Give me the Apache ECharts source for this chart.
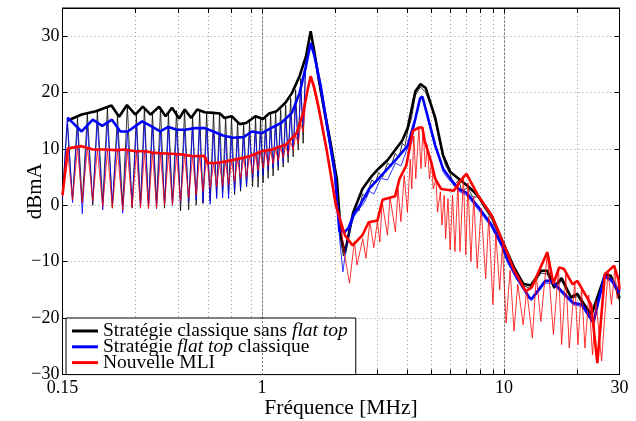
<!DOCTYPE html>
<html>
<head>
<meta charset="utf-8">
<script src="https://cdn.jsdelivr.net/npm/echarts@6/dist/echarts.min.js"></script>
<style>
    html, body { margin: 0; padding: 0; background: #fff; }
    #main { width: 636px; height: 421px; }
</style>
</head>
<body>
<div id="main"></div>
<script>
// axes
var xTickValues = [0.15, 1, 10, 30];
var xTickLabels = ['0.15', '1', '10', '30'];
var xMinorTicks = [0.3, 0.45, 0.6, 0.75, 0.9, 1, 2, 3, 4, 5, 6, 7, 8, 9, 10, 20];
var xMajorGrid = [1, 10];
var yTicks = [-30, -20, -10, 0, 10, 20, 30];

// thin spectra, low band (harmonic peaks / valleys), MHz
var fLow = [0.150, 0.157, 0.165, 0.173, 0.181, 0.190, 0.200, 0.209, 0.220, 0.230,
    0.241, 0.253, 0.266, 0.278, 0.291, 0.303, 0.315, 0.327, 0.340, 0.353,
    0.367, 0.381, 0.396, 0.411, 0.427, 0.444, 0.461, 0.479, 0.498, 0.517,
    0.535, 0.553, 0.571, 0.591, 0.611, 0.631, 0.650, 0.668, 0.688, 0.708,
    0.728, 0.749, 0.771, 0.793, 0.816, 0.840, 0.864, 0.889, 0.915, 0.941,
    0.964, 0.987, 1.011, 1.036, 1.061, 1.086, 1.112, 1.139, 1.167, 1.195,
    1.224, 1.253, 1.283, 1.314, 1.346, 1.378, 1.412, 1.446, 1.480, 1.516];
var blackThinLow = [2.0, 14.5, 1.0, 15.5, 0.5, 16.2, 0.0, 16.6, 0.5, 17.3,
    -0.5, 15.8, 0.0, 17.6, -0.5, 16.0, 0.0, 17.3, -0.5, 16.3,
    0.0, 17.3, -0.5, 16.2, 0.0, 16.8, -1.0, 16.8, -0.8, 15.7,
    0.0, 16.8, 0.3, 16.4, 0.8, 16.3, 1.6, 16.2, 2.3, 15.6,
    2.1, 15.6, 1.9, 14.8, 2.5, 14.4, 3.3, 14.9, 3.3, 15.6,
    3.2, 15.5, 4.0, 15.6, 4.8, 16.2, 5.2, 16.5, 6.2, 17.0,
    6.8, 17.8, 7.6, 19.0, 8.6, 20.5, 9.8, 22.5, 11.0, 25.5];
var blueThinLow = [1.0, 15.5, 0.5, 14.0, -1.5, 14.0, 0.5, 14.8, -0.8, 14.8,
    0.3, 13.5, -1.4, 13.0, 0.0, 14.0, -0.5, 14.7, -0.2, 14.0,
    -0.6, 13.1, 0.1, 13.8, 0.1, 13.4, 0.4, 13.4, 0.7, 13.6,
    1.0, 13.7, 0.5, 13.6, 0.2, 13.1, 1.2, 12.7, 1.3, 12.3,
    1.2, 12.0, 2.5, 12.0, 2.9, 12.1, 3.5, 12.6, 4.7, 13.0,
    5.0, 12.8, 5.3, 13.2, 6.2, 13.6, 6.6, 14.0, 7.0, 14.5,
    7.6, 15.2, 8.8, 16.0, 9.8, 17.6, 11.2, 20.5, 14.0, 24.0];
var redThinLow = [1.5, 10.0, 1.0, 10.2, 0.5, 10.3, 0.7, 9.8, -0.2, 9.7,
    -0.5, 9.7, -0.8, 9.8, -0.3, 9.5, -0.5, 9.5, -0.6, 9.4,
    -0.5, 9.2, 0.0, 9.1, 0.1, 9.0, 0.7, 9.0, 1.3, 8.7,
    1.8, 8.8, 2.5, 8.6, 3.0, 7.5, 3.3, 7.6, 3.5, 7.8,
    3.6, 8.0, 4.2, 8.2, 4.8, 8.4, 5.1, 8.7, 5.6, 9.0,
    6.2, 9.4, 6.6, 9.6, 7.0, 9.8, 7.4, 10.0, 7.9, 10.3,
    8.4, 10.6, 9.0, 11.2, 9.8, 12.4, 11.0, 14.5, 13.0, 18.5];

// thin spectra, upper band
var fBlackThinHigh = [1.55, 1.59, 1.65, 1.71, 1.81, 1.92, 2.04, 2.12, 2.17, 2.22,
    2.30, 2.38, 2.45, 2.52, 2.60, 2.70, 2.84, 2.95, 3.03, 3.15,
    3.30, 3.42, 3.55, 3.68, 3.80, 3.90, 4.00, 4.15, 4.30, 4.52,
    4.75, 5.00, 5.20, 5.40, 5.60, 5.75, 6.00, 6.20, 6.50, 6.70,
    7.10, 7.40, 7.80, 8.30, 8.90, 10.0, 11.0, 12.0, 12.9, 14.2,
    15.1, 16.1, 17.3, 18.9, 20.1, 22.1, 23.0, 26.2, 27.6, 29.3, 30.0];
var blackThinHigh = [28.5, 30.5, 26.5, 22.0, 16.0, 10.0, 3.5, -6.5, -9.0, -7.5,
    -4.0, -2.0, -0.5, -1.0, 2.0, 1.5, 4.5, 4.0, 5.8, 5.0,
    7.5, 7.0, 9.2, 8.5, 11.0, 10.5, 13.2, 15.5, 19.5, 21.0,
    20.0, 17.5, 15.0, 11.5, 8.5, 7.0, 5.5, 3.5, 4.5, 2.5,
    3.2, 1.5, 1.5, -0.5, -2.5, -7.5, -11.5, -14.2, -14.8, -12.0,
    -12.2, -14.8, -13.4, -16.5, -16.2, -18.8, -19.6, -12.8, -13.0, -15.5, -17.0];
var fBlueThinHigh = [1.55, 1.59, 1.65, 1.75, 1.86, 2.00, 2.09, 2.16, 2.22, 2.28,
    2.40, 2.54, 2.65, 2.78, 2.90, 3.10, 3.30, 3.56, 3.75, 4.00,
    4.15, 4.30, 4.50, 4.60, 4.80, 5.00, 5.20, 5.40, 5.60, 5.80,
    6.00, 6.50, 7.00, 7.90, 8.90, 9.80, 10.3, 11.3, 12.0, 12.7,
    13.0, 14.8, 15.8, 17.3, 19.3, 21.0, 23.0, 23.4, 26.0, 27.8, 30.0];
var blueThinHigh = [27.0, 28.5, 26.0, 20.5, 13.5, 5.0, -5.5, -11.8, -8.0, -5.0,
    -2.0, -0.5, 0.5, 2.5, 2.0, 4.8, 4.5, 7.5, 7.0, 10.2,
    11.0, 15.0, 18.6, 19.0, 16.0, 13.0, 10.2, 8.5, 6.0, 5.0,
    4.3, 2.5, 1.8, -1.0, -4.0, -7.5, -10.0, -13.2, -14.5, -16.6,
    -16.9, -13.8, -13.8, -15.6, -17.6, -18.0, -20.6, -21.0, -12.8, -13.6, -15.8];
var fRedThinHigh = [1.55, 1.59, 1.64, 1.71, 1.85, 2.00, 2.12, 2.20, 2.30, 2.41,
    2.47, 2.61, 2.69, 2.79, 2.90, 3.00, 3.07, 3.14, 3.30, 3.38,
    3.56, 3.65, 3.75, 3.87, 3.99, 4.10, 4.16, 4.24, 4.32, 4.45,
    4.54, 4.63, 4.73, 4.83, 4.92, 5.03, 5.10, 5.24, 5.31, 5.46,
    5.54, 5.66, 5.74, 5.87, 5.99, 6.13, 6.27, 6.45, 6.58, 6.80,
    6.95, 7.10, 7.30, 7.50, 7.75, 8.05, 8.40, 8.65, 9.00, 9.25,
    9.60, 9.85, 10.2, 10.6, 11.0, 11.4, 12.0, 12.4, 13.1, 13.6,
    14.2, 15.1, 16.0, 16.8, 17.3, 18.0, 18.6, 19.6, 20.2, 20.9,
    21.6, 22.4, 23.2, 24.0, 25.3, 26.9, 27.8, 28.7, 29.3, 30.0];
var redThinHigh = [21.0, 22.5, 20.5, 17.0, 9.5, 2.0, -4.0, -9.0, -13.8, -6.4,
    -10.6, -5.9, -9.4, -2.9, -7.5, -2.8, -6.5, 0.5, -5.3, 1.5,
    -4.7, 2.9, -2.9, 5.3, -1.2, 8.2, 2.9, 12.3, 4.7, 13.8,
    6.5, 13.5, 6.8, 10.6, 4.7, 7.7, 2.9, 4.7, -1.2, 2.4,
    -3.5, 1.8, -5.9, 1.2, -7.9, 1.8, -8.2, 4.1, -8.2, 5.3,
    -8.8, 4.0, -10.0, 1.5, -11.2, -0.5, -13.0, -2.0, -17.6, -5.0,
    -15.0, -7.0, -20.9, -11.5, -22.3, -14.0, -21.2, -15.0, -23.5, -12.5,
    -20.6, -8.5, -22.9, -11.2, -24.7, -12.3, -25.3, -13.5, -24.7, -14.7,
    -25.3, -15.9, -26.5, -17.0, -27.6, -11.7, -17.6, -11.2, -16.5, -15.3];

// envelopes (thick lines)
var fBlackEnv = [0.157, 0.180, 0.206, 0.239, 0.257, 0.277, 0.300, 0.322, 0.347, 0.376,
    0.400, 0.425, 0.455, 0.480, 0.510, 0.540, 0.580, 0.630, 0.670, 0.700,
    0.750, 0.810, 0.860, 0.940, 1.010, 1.070, 1.150, 1.250, 1.330, 1.430,
    1.520, 1.590, 1.650, 1.710, 1.810, 1.920, 2.040, 2.120, 2.200, 2.260,
    2.380, 2.600, 2.840, 3.030, 3.300, 3.550, 3.800, 4.000, 4.300, 4.520,
    4.750, 5.200, 5.600, 6.000, 6.500, 7.100, 7.800, 8.900, 10.00, 11.00,
    12.00, 12.90, 14.20, 15.10, 16.10, 17.30, 18.90, 20.10, 22.10, 23.00,
    26.20, 27.60, 29.30, 30.00];
var blackEnv = [15.0, 16.1, 16.7, 17.7, 15.7, 17.8, 16.1, 17.5, 16.1, 17.5,
    15.8, 17.3, 15.4, 17.0, 15.5, 17.0, 16.5, 16.4, 16.3, 15.5,
    15.8, 14.4, 14.6, 15.8, 15.3, 16.3, 16.7, 18.2, 19.9, 22.9,
    26.4, 30.9, 27.0, 22.9, 17.0, 11.1, 4.6, -5.5, -8.5, -6.1,
    -1.3, 2.9, 5.2, 6.5, 8.0, 9.8, 11.5, 13.7, 20.2, 21.5,
    20.8, 15.5, 8.9, 5.9, 4.7, 3.4, 1.7, -1.9, -7.0, -11.0,
    -13.9, -14.2, -11.6, -11.6, -14.5, -12.9, -16.3, -15.7, -18.4, -19.3,
    -12.2, -12.5, -14.9, -16.5];
var fBlueEnv = [0.157, 0.180, 0.200, 0.219, 0.240, 0.260, 0.279, 0.320, 0.347, 0.380,
    0.410, 0.446, 0.480, 0.530, 0.580, 0.630, 0.690, 0.760, 0.840, 0.910,
    1.000, 1.090, 1.200, 1.330, 1.430, 1.520, 1.590, 1.650, 1.750, 1.860,
    2.000, 2.090, 2.200, 2.280, 2.400, 2.540, 2.780, 3.100, 3.560, 4.000,
    4.300, 4.500, 4.600, 4.800, 5.200, 5.600, 6.000, 6.500, 7.000, 7.900,
    8.900, 9.800, 10.30, 11.30, 12.70, 13.00, 14.80, 15.80, 17.30, 19.30,
    21.00, 23.00, 23.40, 26.00, 27.80, 30.00];
var blueEnv = [15.6, 13.1, 15.2, 14.1, 15.2, 13.1, 13.1, 14.9, 14.1, 13.1,
    13.9, 13.4, 13.4, 13.7, 13.7, 13.1, 12.4, 12.0, 12.1, 13.1,
    12.8, 13.7, 14.6, 16.4, 19.9, 24.7, 28.8, 26.4, 21.1, 14.0,
    5.7, -4.6, -4.7, -4.0, -1.5, 0.0, 3.0, 5.2, 8.0, 10.6,
    15.3, 19.0, 19.3, 16.3, 10.6, 6.5, 4.7, 2.9, 2.2, -0.5,
    -3.5, -7.0, -9.5, -12.8, -16.3, -16.6, -13.4, -13.4, -15.2, -17.3,
    -17.6, -20.3, -20.8, -12.5, -13.2, -15.5];
var fRedEnv = [0.150, 0.158, 0.180, 0.200, 0.224, 0.250, 0.270, 0.300, 0.330, 0.360,
    0.400, 0.440, 0.470, 0.520, 0.575, 0.595, 0.650, 0.710, 0.790, 0.890,
    1.000, 1.100, 1.260, 1.390, 1.480, 1.550, 1.590, 1.640, 1.710, 1.850,
    2.020, 2.200, 2.370, 2.600, 2.760, 3.000, 3.150, 3.400, 3.550, 3.700,
    3.950, 4.200, 4.450, 4.600, 4.700, 5.000, 5.200, 5.500, 6.200, 6.700,
    7.000, 7.800, 8.900, 10.00, 11.00, 12.30, 13.00, 15.10, 16.00, 16.90,
    17.70, 19.20, 20.10, 22.90, 24.30, 26.10, 28.50, 29.80, 30.00];
var redEnv = [1.8, 10.1, 10.5, 9.9, 9.9, 9.8, 9.9, 9.6, 9.6, 9.3,
    9.2, 9.1, 9.0, 8.7, 8.8, 7.5, 7.5, 7.8, 8.2, 8.7,
    9.6, 9.9, 10.8, 12.8, 16.4, 20.8, 22.9, 21.1, 17.6, 9.9,
    0.0, -5.3, -7.1, -5.3, -3.0, -2.7, 1.0, 1.4, 1.6, 4.7,
    7.1, 13.2, 13.8, 13.8, 11.5, 7.7, 4.7, 2.9, 2.6, 4.7,
    5.6, 1.8, -1.8, -7.0, -11.5, -15.2, -14.6, -8.3, -13.9, -11.0,
    -11.3, -14.0, -13.4, -17.6, -28.0, -12.2, -10.7, -13.4, -15.0];

var names = ['Stratégie classique sans flat top', 'Stratégie flat top classique', 'Nouvelle MLI'];
var font = '"Liberation Serif", "Times New Roman", serif';

function lg(f) { return Math.log10(f); }
function pairs(fs, vs) {
    return fs.map(function (f, i) { return [lg(f), vs[i]]; });
}
function thin(name, color, fs, vs) {
    return {
        name: name, type: 'line', data: pairs(fs, vs), showSymbol: false, silent: true,
        lineStyle: { color: color, width: 0.8 }, itemStyle: { color: color }
    };
}
function thick(name, color, fs, vs) {
    return {
        name: name, type: 'line', data: pairs(fs, vs), showSymbol: false, silent: true,
        lineStyle: { color: color, width: 2.6 }, itemStyle: { color: color }
    };
}

var myChart = echarts.init(document.getElementById('main'));
var gridLine = { show: true, lineStyle: { color: '#9a9a9a', width: 1, type: [1, 3] } };

var option = {
    animation: false,
    grid: {
        left: 62.5, right: 16.5, top: 8, bottom: 46.5, containLabel: false, outerBoundsMode: 'none',
        show: true, borderColor: '#000', borderWidth: 1
    },
    xAxis: [{
        type: 'value', min: lg(0.15), max: lg(30),
        axisLine: { show: true, onZero: false, lineStyle: { color: '#000' } },
        axisTick: { show: true, inside: true, length: 5, customValues: xMinorTicks.map(lg), lineStyle: { color: '#000' } },
        axisLabel: {
            customValues: xTickValues.map(lg), margin: 5, fontFamily: font, fontSize: 18, color: '#000',
            showMinLabel: true, showMaxLabel: true,
            formatter: function (v) {
                for (var i = 0; i < xTickValues.length; i++) {
                    if (Math.abs(lg(xTickValues[i]) - v) < 1e-6) return xTickLabels[i];
                }
                return '';
            }
        },
        splitLine: gridLine,
        name: 'Fréquence [MHz]', nameLocation: 'middle', nameGap: 23, nameMoveOverlap: false,
        nameTextStyle: { fontFamily: font, fontSize: 21.5, color: '#000' }
    }, {
        type: 'value', position: 'top', min: lg(0.15), max: lg(30),
        axisLine: { show: true, onZero: false, lineStyle: { color: '#000' } },
        axisTick: { show: true, inside: true, length: 5, customValues: xMinorTicks.map(lg), lineStyle: { color: '#000' } },
        axisLabel: { show: false }, splitLine: { show: false }
    }],
    yAxis: [{
        type: 'value', min: -30, max: 35,
        axisLine: { show: true, onZero: false, lineStyle: { color: '#000' } },
        axisTick: { show: true, inside: true, length: 5, customValues: yTicks, lineStyle: { color: '#000' } },
        axisLabel: {
            customValues: yTicks, margin: 3, fontFamily: font, fontSize: 18, color: '#000',
            formatter: function (v) { return v < 0 ? '\u2212' + (-v) : String(v); }
        },
        splitLine: gridLine,
        name: 'dBmA', nameLocation: 'middle', nameGap: 17, nameMoveOverlap: false,
        nameTextStyle: { fontFamily: font, fontSize: 21, color: '#000' }
    }, {
        type: 'value', position: 'right', min: -30, max: 35,
        axisLine: { show: true, onZero: false, lineStyle: { color: '#000' } },
        axisTick: { show: true, inside: true, length: 5, customValues: yTicks, lineStyle: { color: '#000' } },
        axisLabel: { show: false }, splitLine: { show: false }
    }],
    legend: {
        data: names, orient: 'vertical', left: 66, top: 318,
        backgroundColor: '#fff', borderColor: '#000', borderWidth: 1,
        padding: [3, 8, 2, 6], itemGap: -4.2, itemWidth: 26, itemHeight: 3, icon: 'rect',
        textStyle: {
            fontFamily: font, fontSize: 19.5, color: '#000', lineHeight: 18,
            rich: { i: { fontFamily: font, fontSize: 19.5, fontStyle: 'italic', color: '#000', lineHeight: 18 } }
        },
        formatter: function (name) { return name.replace('flat top', '{i|flat top}'); }
    },
    series: [
        {
            name: 'grid', type: 'line', data: [], silent: true,
            markLine: {
                silent: true, symbol: 'none', label: { show: false },
                lineStyle: { color: '#000', width: 1, type: [1, 3] },
                data: xMajorGrid.map(function (v) { return { xAxis: lg(v) }; })
            }
        },
        thin('thinBlack', '#000000', fLow.concat(fBlackThinHigh), blackThinLow.concat(blackThinHigh)),
        thick(names[0], '#000000', fBlackEnv, blackEnv),
        thin('thinBlue', '#0000ff', fLow.concat(fBlueThinHigh), blueThinLow.concat(blueThinHigh)),
        thick(names[1], '#0000ff', fBlueEnv, blueEnv),
        thin('thinRed', '#ff0000', fLow.concat(fRedThinHigh), redThinLow.concat(redThinHigh)),
        thick(names[2], '#ff0000', fRedEnv, redEnv)
    ]
};

myChart.setOption(option);
</script>
</body>
</html>
